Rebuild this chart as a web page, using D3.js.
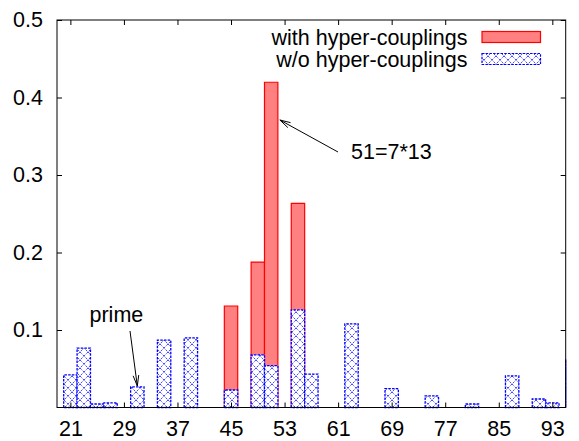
<!DOCTYPE html>
<html><head><meta charset="utf-8">
<script src="https://cdn.jsdelivr.net/npm/d3@7"></script>
<style>body{margin:0;background:#fff}svg{display:block}text{font-family:"Liberation Sans",Arial,sans-serif;fill:#000}</style>
</head><body><svg id="c" width="579" height="441"></svg>
<script>
// data
const withHC = [ {x:45,v:0.131},{x:49,v:0.1876},{x:51,v:0.4197},{x:55,v:0.2633} ];
const woX = [21,23,25,27,31,35,39,45,49,51,55,57,63,69,75,81,87,91,93,97];
const woV = [0.042,0.0765,0.0045,0.006,0.0265,0.087,0.0898,0.0226,0.068,0.054,0.126,0.043,0.108,0.0243,0.0149,0.0045,0.0407,0.011,0.006,0.062];
const xTicks = [21,29,37,45,53,61,69,77,85,93];
const yTicks = [0.1,0.2,0.3,0.4,0.5];
const seriesNames = ["with hyper-couplings","w/o hyper-couplings"];

const L=57,R=565.7,T=20,B=407.5;
const x=d3.scaleLinear().domain([19,95]).range([L,R]).clamp(true);
const y=d3.scaleLinear().domain([0,0.5]).range([B,T]);
const svg=d3.select("#c");
const defs=svg.append("defs");
const pat=defs.append("pattern").attr("id","hatch").attr("patternUnits","userSpaceOnUse").attr("width",8).attr("height",8);
pat.append("rect").attr("width",8).attr("height",8).attr("fill","#fff");
pat.append("path").attr("d","M0,0L8,8M8,0L0,8").attr("stroke","#0000ff").attr("stroke-width",1).attr("stroke-dasharray","1,1.2").attr("fill","none");

const g=svg.append("g");
const barPath=d=>{const x0=x(d.x-1),x1=x(d.x+1),yt=y(d.v);return `M${x0},${B}V${yt}H${x1}V${B}Z`;};
g.selectAll("path.r").data(withHC).join("path").attr("class","r").attr("d",barPath)
 .attr("fill","#ff8080").attr("stroke","#ff0000").attr("stroke-width",1.2);
const wo=woX.map((xx,i)=>({x:xx,v:woV[i]}));
g.selectAll("path.b").data(wo).join("path").attr("class","b").attr("d",barPath)
 .attr("fill","url(#hatch)").attr("stroke","#0000ff").attr("stroke-width",1.3).attr("stroke-dasharray","2.5,1.2");

// frame
svg.append("rect").attr("x",L).attr("y",T).attr("width",R-L).attr("height",B-T).attr("fill","none").attr("stroke","#000").attr("stroke-width",1);
const FS=21.5;
// axes
svg.append("g").attr("transform",`translate(0,${B})`).call(d3.axisBottom(x).tickValues(xTicks).tickSize(-5).tickPadding(13.5).tickFormat(d3.format("d")));
svg.append("g").attr("transform",`translate(${L},0)`).call(d3.axisLeft(y).tickValues(yTicks).tickSize(-5).tickPadding(14).tickFormat(d3.format(".1f")));
svg.append("g").attr("transform",`translate(0,${T})`).call(d3.axisTop(x).tickValues(xTicks).tickSize(-5).tickFormat(""));
svg.append("g").attr("transform",`translate(${R},0)`).call(d3.axisRight(y).tickValues(yTicks).tickSize(-5).tickFormat(""));
svg.selectAll(".domain").remove();
svg.selectAll(".tick line").attr("stroke","#000");
svg.selectAll(".tick text").attr("font-size",FS).attr("font-family","Liberation Sans, Arial, sans-serif").attr("fill","#000");

// legend
const lg=svg.append("g");
[0,1].forEach(i=>{
  const cy=[37,59][i];
  lg.append("text").attr("x",467.5).attr("y",cy).attr("dy","0.35em").attr("text-anchor","end").attr("font-size",FS).text(seriesNames[i]);
  lg.append("rect").attr("x",482).attr("y",cy-5.5).attr("width",58.5).attr("height",11)
    .attr("fill",i?"url(#hatch)":"#ff8080").attr("stroke",i?"#0000ff":"#ff0000").attr("stroke-width",1.2)
    .attr("stroke-dasharray",i?"2.5,1.2":null);
});

// annotations
function arrow(x1,y1,x2,y2){
  svg.append("line").attr("x1",x1).attr("y1",y1).attr("x2",x2).attr("y2",y2).attr("stroke","#000").attr("stroke-width",1);
  const a=Math.atan2(y2-y1,x2-x1),h=11,s=0.26;
  [a+Math.PI-s,a+Math.PI+s].forEach(t=>svg.append("line").attr("x1",x2).attr("y1",y2)
    .attr("x2",x2+h*Math.cos(t)).attr("y2",y2+h*Math.sin(t)).attr("stroke","#000").attr("stroke-width",1));
}
svg.append("text").attr("x",89.5).attr("y",321.5).attr("font-size",FS).text("prime");
arrow(130,331,x(31),y(0.0265)-1);
svg.append("text").attr("x",351).attr("y",159).attr("font-size",FS).text("51=7*13");
arrow(338,152,x(52)+2,120);
</script></body></html>
